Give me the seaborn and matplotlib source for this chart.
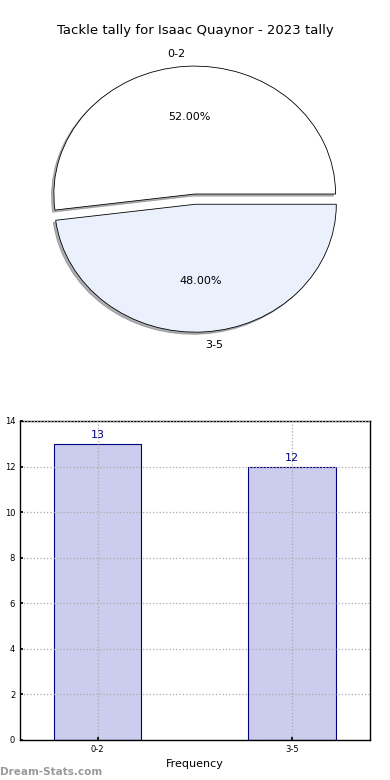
import matplotlib
matplotlib.use("Agg")
import matplotlib.pyplot as plt
import seaborn as sns

# data
categorias = ["0-2", "3-5"]
contagens = [13, 12]
cores_pie = ["#ffffff", "#eaf0fc"]
titulo = "Tackle tally for Isaac Quaynor - 2023 tally"

sns.set_theme(style="white")
plt.rcParams['font.family'] = ['DejaVu Sans']
plt.rcParams['text.color'] = 'black'
plt.rcParams['axes.labelcolor'] = 'black'
plt.rcParams['xtick.color'] = 'black'
plt.rcParams['ytick.color'] = 'black'

fig = plt.figure(figsize=(3.9, 7.8), dpi=100)

# pie on top
ax_pie = fig.add_axes([0.0487, 0.5397, 0.903, 0.41])
ax_pie.pie(contagens, labels=categorias, colors=cores_pie,
           autopct=lambda p: f"{p:.2f}%", pctdistance=0.6, labeldistance=1.1,
           startangle=0, explode=[0.04, 0.04],
           shadow={'ox': -0.012, 'oy': -0.012, 'shade': 0.6},
           wedgeprops={'edgecolor': 'black', 'linewidth': 0.6},
           textprops={'fontsize': 8, 'color': 'black'})
ax_pie.set_aspect('auto')
ax_pie.set_xlim(-1.25, 1.25)
ax_pie.set_ylim(-1.25, 1.25)
fig.text(0.5, 0.9615, titulo, ha='center', va='center', fontsize=9.5)

# bar chart below
ax_bar = fig.add_axes([0.0513, 0.0513, 0.897, 0.409])
sns.barplot(x=categorias, y=contagens, color="#ccccee", edgecolor="navy",
            linewidth=0.8, width=0.45, saturation=1, ax=ax_bar)
for i, v in enumerate(contagens):
    ax_bar.text(i, v + 0.15, str(v), ha='center', va='bottom',
                color='navy', fontsize=8)
ax_bar.set_xlim(-0.4, 1.4)
ax_bar.set_ylim(0, 14)
ax_bar.set_yticks(range(0, 15, 2))
ax_bar.grid(True, linestyle=':', color='#aaaaaa', linewidth=0.9)
ax_bar.set_axisbelow(False)
for s in ax_bar.spines.values():
    s.set_color('black')
    s.set_linewidth(1)
ax_bar.tick_params(labelsize=6, length=2, direction='in', left=True, bottom=True)
ax_bar.set_xlabel("Frequency", fontsize=8)
ax_bar.set_ylabel("Occurrences", fontsize=7)

fig.text(0.0, 0.004, "Dream-Stats.com", fontsize=7.5, color='#999999',
         fontweight='bold', ha='left', va='bottom')

fig.savefig("out.png", dpi=100)
